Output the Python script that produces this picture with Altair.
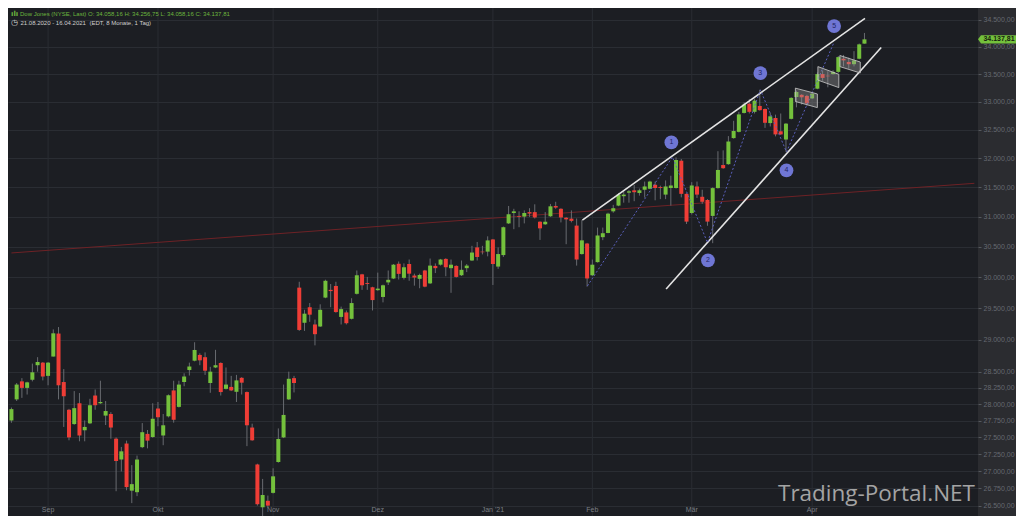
import altair as alt
import pandas as pd

# ---------------- data ----------------
dates = [
    "2020-08-21", "2020-08-24", "2020-08-25", "2020-08-26", "2020-08-27", "2020-08-28", "2020-08-31",
    "2020-09-01", "2020-09-02", "2020-09-03", "2020-09-04", "2020-09-08", "2020-09-09", "2020-09-10",
    "2020-09-11", "2020-09-14", "2020-09-15", "2020-09-16", "2020-09-17", "2020-09-18", "2020-09-21",
    "2020-09-22", "2020-09-23", "2020-09-24", "2020-09-25", "2020-09-28", "2020-09-29", "2020-09-30",
    "2020-10-01", "2020-10-02", "2020-10-05", "2020-10-06", "2020-10-07", "2020-10-08", "2020-10-09",
    "2020-10-12", "2020-10-13", "2020-10-14", "2020-10-15", "2020-10-16", "2020-10-19", "2020-10-20",
    "2020-10-21", "2020-10-22", "2020-10-23", "2020-10-26", "2020-10-27", "2020-10-28", "2020-10-29",
    "2020-10-30", "2020-11-02", "2020-11-03", "2020-11-04", "2020-11-05", "2020-11-06", "2020-11-09",
    "2020-11-10", "2020-11-11", "2020-11-12", "2020-11-13", "2020-11-16", "2020-11-17", "2020-11-18",
    "2020-11-19", "2020-11-20", "2020-11-23", "2020-11-24", "2020-11-25", "2020-11-27", "2020-11-30",
    "2020-12-01", "2020-12-02", "2020-12-03", "2020-12-04", "2020-12-07", "2020-12-08", "2020-12-09",
    "2020-12-10", "2020-12-11", "2020-12-14", "2020-12-15", "2020-12-16", "2020-12-17", "2020-12-18",
    "2020-12-21", "2020-12-22", "2020-12-23", "2020-12-24", "2020-12-28", "2020-12-29", "2020-12-30",
    "2020-12-31", "2021-01-04", "2021-01-05", "2021-01-06", "2021-01-07", "2021-01-08", "2021-01-11",
    "2021-01-12", "2021-01-13", "2021-01-14", "2021-01-15", "2021-01-19", "2021-01-20", "2021-01-21",
    "2021-01-22", "2021-01-25", "2021-01-26", "2021-01-27", "2021-01-28", "2021-01-29", "2021-02-01",
    "2021-02-02", "2021-02-03", "2021-02-04", "2021-02-05", "2021-02-08", "2021-02-09", "2021-02-10",
    "2021-02-11", "2021-02-12", "2021-02-16", "2021-02-17", "2021-02-18", "2021-02-19", "2021-02-22",
    "2021-02-23", "2021-02-24", "2021-02-25", "2021-02-26", "2021-03-01", "2021-03-02", "2021-03-03",
    "2021-03-04", "2021-03-05", "2021-03-08", "2021-03-09", "2021-03-10", "2021-03-11", "2021-03-12",
    "2021-03-15", "2021-03-16", "2021-03-17", "2021-03-18", "2021-03-19", "2021-03-22", "2021-03-23",
    "2021-03-24", "2021-03-25", "2021-03-26", "2021-03-29", "2021-03-30", "2021-03-31", "2021-04-01",
    "2021-04-05", "2021-04-06", "2021-04-07", "2021-04-08", "2021-04-09", "2021-04-12", "2021-04-13",
    "2021-04-14", "2021-04-15", "2021-04-16",
]

opens = [
    27754, 28074, 28350, 28250, 28375, 28600, 28640, 28435, 28735, 29096, 28340, 27916, 27700, 28015,
    27607, 27711, 28133, 28015, 27828, 27852, 27481, 27172, 27409, 26716, 26694, 27355, 27553, 27506,
    27935, 27529, 27817, 28211, 27960, 28340, 28525, 28670, 28760, 28725, 28325, 28565, 28635, 28235,
    28265, 28190, 28405, 28186, 27648, 27099, 26476, 26570, 26684, 27135, 27500, 28074, 28400, 29831,
    29267, 29515, 29240, 29208, 29670, 29795, 29858, 29360, 29432, 29330, 29731, 30047, 29905, 29837,
    29790, 29680, 29916, 29979, 30220, 29990, 30216, 30027, 29974, 30110, 29900, 30185, 30205, 30300,
    30148, 30185, 30032, 30148, 30274, 30490, 30420, 30420, 30622, 30174, 30363, 30890, 31065, 31016,
    31005, 31080, 31080, 30918, 30875, 31010, 31184, 31136, 30985, 30970, 30853, 30380, 30554, 30032,
    30247, 30660, 30730, 31093, 31190, 31350, 31410, 31450, 31405, 31460, 31477, 31545, 31505, 31377,
    31490, 31490, 31960, 31390, 31065, 31516, 31340, 31285, 31016, 31488, 31885, 31900, 32355, 32465,
    32800, 32965, 32820, 32925, 32870, 32620, 32710, 32475, 32330, 32695, 33085, 33125, 33105, 33060,
    33235, 33500, 33470, 33500, 33540, 33780, 33720, 33680, 33780, 34058.16,
]

highs = [
    27950, 28325, 28400, 28345, 28625, 28725, 28650, 28650, 29162, 29199, 28540, 27930, 28201, 28171,
    27755, 28083, 28226, 28360, 28049, 27880, 27500, 27358, 27452, 27089, 27230, 27715, 27611, 28015,
    28034, 27852, 28150, 28360, 28360, 28475, 28640, 28959, 28785, 28800, 28575, 28840, 28645, 28565,
    28435, 28450, 28415, 28195, 27706, 27110, 26887, 26645, 27043, 27635, 28301, 28500, 28435, 29926,
    29474, 29582, 29318, 29562, 29960, 29890, 29926, 29525, 29463, 29660, 30110, 30055, 30005, 29845,
    30075, 29880, 30110, 30216, 30258, 30226, 30290, 30058, 30058, 30120, 30306, 30226, 30300, 30310,
    30290, 30195, 30274, 30216, 30516, 30580, 30516, 30674, 30630, 30490, 30837, 31184, 31136, 31093,
    31109, 31146, 31212, 30925, 31080, 31218, 31255, 31145, 30995, 31109, 30972, 30946, 30565, 30290,
    30820, 30820, 31070, 31203, 31405, 31430, 31455, 31540, 31480, 31600, 31615, 31600, 31530, 31620,
    31700, 32017, 31990, 31400, 31590, 31600, 31460, 31300, 31500, 32125, 32140, 32390, 32660, 32820,
    32990, 33050, 33055, 33215, 32880, 32800, 32770, 32790, 32620, 33080, 33200, 33135, 33125, 33160,
    33530, 33560, 33550, 33570, 33830, 33850, 33800, 33920, 34060, 34256.75,
]

lows = [
    27720, 28049, 28097, 28148, 28350, 28500, 28365, 28290, 28735, 28074, 27657, 27457, 27690, 27442,
    27442, 27700, 27916, 28005, 27686, 27481, 26708, 26996, 26722, 26536, 26637, 27340, 27337, 27495,
    27667, 27384, 27800, 27721, 27950, 28275, 28440, 28660, 28600, 28450, 28175, 28555, 28133, 28225,
    28201, 28034, 28148, 27370, 27450, 26500, 26340, 26470, 26675, 27125, 27490, 28065, 28180, 29138,
    29138, 29282, 28910, 29200, 29660, 29515, 29427, 29240, 29240, 29320, 29720, 29795, 29795, 29463,
    29780, 29593, 29874, 29970, 29963, 29963, 29942, 29863, 29821, 29837, 29890, 30068, 30190, 30016,
    29747, 29995, 30020, 30084, 30265, 30274, 30374, 30342, 29874, 30137, 30332, 30880, 30793, 30826,
    30890, 31000, 30972, 30614, 30865, 31000, 31136, 30907, 30543, 30907, 30190, 30370, 29847, 30020,
    30240, 30610, 30725, 31070, 31180, 31240, 31240, 31265, 31360, 31325, 31470, 31280, 31300, 31300,
    31190, 31480, 31330, 30880, 31040, 31320, 31220, 30850, 30560, 31480, 31820, 31890, 32345, 32455,
    32790, 32790, 32790, 32840, 32535, 32560, 32385, 32410, 32115, 32685, 32900, 32950, 32930, 33050,
    33225, 33380, 33260, 33490, 33520, 33640, 33600, 33640, 33770, 34058.16,
]

closes = [
    27926, 28301, 28250, 28335, 28490, 28650, 28425, 28640, 29100, 28290, 28122, 27500, 27941, 27529,
    27657, 27985, 27985, 28034, 27897, 27648, 27150, 27293, 26768, 26811, 27172, 27578, 27452, 27780,
    27803, 27682, 28137, 27765, 28301, 28425, 28580, 28838, 28676, 28515, 28500, 28600, 28186, 28301,
    28211, 28365, 28330, 27682, 27457, 26520, 26653, 26500, 26925, 27477, 27838, 28390, 28325, 29153,
    29412, 29396, 29086, 29474, 29942, 29775, 29438, 29485, 29260, 29582, 30032, 29869, 29890, 29630,
    29815, 29869, 29958, 30205, 30055, 30163, 30058, 29995, 30037, 29847, 30190, 30148, 30290, 30163,
    30205, 30005, 30121, 30190, 30405, 30332, 30410, 30606, 30216, 30380, 30826, 31044, 31093, 31000,
    31065, 31055, 30990, 30807, 30918, 31178, 31157, 30990, 30958, 30932, 30290, 30607, 29980, 30205,
    30688, 30726, 31054, 31146, 31377, 31377, 31433, 31418, 31450, 31516, 31600, 31490, 31490, 31516,
    31533, 31972, 31390, 30920, 31533, 31377, 31255, 30920, 31488, 31800, 31830, 32295, 32480, 32774,
    32950, 32820, 33020, 32850, 32625, 32740, 32420, 32420, 32610, 33070, 33175, 33080, 32970, 33145,
    33500, 33430, 33460, 33540, 33810, 33750, 33680, 33750, 34045, 34137.81,
]

month_labels = ["Sep", "Okt", "Nov", "Dez", "Jan '21", "Feb", "Mär", "Apr"]
y_ticks = [26500, 26750, 27000, 27250, 27500, 27750, 28000, 28250, 28500, 29000, 29500,
           30000, 30500, 31000, 31500, 32000, 32500, 33000, 33500, 34000, 34500]

# drawn annotations (trading-day index, price)
wedge_line = ["upper", "upper", "lower", "lower"]
wedge_idx = [109.1, 163.1, 125.1, 166.2]
wedge_price = [30946, 34529, 29810, 33987]

trend_idx = [0, 184]
trend_price = [30398, 31570]

wave_idx = [110.06, 126.3, 133.0, 143.1, 148.1, 157.2]
wave_price = [29858, 32025, 30569, 33215, 32113, 34087]

marker_labels = ["1", "2", "3", "4", "5"]
marker_idx = [126.1, 133.1, 143.1, 148.1, 157.2]
marker_price = [32278, 30275, 33518, 31793, 34384]

flag_id = ["f1", "f1", "f2", "f2", "f3", "f3"]
flag_idx = [149.8, 154.0, 154.1, 158.1, 158.3, 162.2]
flag_top = [33245, 33140, 33636, 33495, 33839, 33720]
flag_bottom = [33005, 32895, 33390, 33255, 33636, 33520]

instrument = "Dow Jones (NYSE, Last)"
period_text = "21.08.2020 - 16.04.2021"
period_note = "(EDT, 8 Monate, 1 Tag)"
watermark = "Trading-Portal.NET"

# ---------------- helpers ----------------
def de(v):
    return f"{v:,.2f}".replace(",", "#").replace(".", ",").replace("#", ".")

W, H = 970, 508
PANEL = 38
GREEN = "#74c13c"
RED = "#ef3d36"
FONT = "Liberation Sans"

candles = pd.DataFrame({
    "i": list(range(len(dates))),
    "date": dates,
    "open": opens, "high": highs, "low": lows, "close": closes,
})
candles["dir"] = ["up" if c >= o else "down" for o, c in zip(opens, closes)]

months = [d[:7] for d in dates]
month_first = [k for k in range(1, len(months)) if months[k] != months[k - 1]]
month_df = pd.DataFrame({"i": month_first, "label": month_labels})

x_scale = alt.Scale(domain=[0.3, 183.74], nice=False, zero=False)
y_scale = alt.Scale(type="log", domain=[26351, 34724], nice=False, zero=False)
y_axis = alt.Axis(
    orient="right", values=y_ticks, title=None,
    labelExpr="replace(replace(replace(format(datum.value, ',.2f'), ',', '#'), '.', ','), '#', '.')",
    tickSize=3, tickColor="#55585e", labelColor="#666970", labelFontSize=7, labelFont=FONT,
    labelPadding=2, domain=False, grid=True, gridColor="#2a2d33", gridWidth=1,
    labelOverlap=False, labelFlush=False, labelBound=False,
)

def X(field="i"):
    return alt.X(f"{field}:Q", scale=x_scale, axis=None)

def Y(field):
    return alt.Y(f"{field}:Q", scale=y_scale, axis=y_axis)

base = alt.Chart(candles)

grid_v = alt.Chart(month_df).mark_rule(color="#2a2d33", strokeWidth=1).encode(x=X())

trend = alt.Chart(pd.DataFrame({"i": trend_idx, "p": trend_price})).mark_line(
    color="#6e2226", strokeWidth=1, clip=True).encode(x=X(), y=Y("p"))

wicks = base.mark_rule(color="#686b70", strokeWidth=1, clip=True).encode(
    x=X(), y=Y("low"), y2="high:Q")

bodies = base.mark_bar(size=4, clip=True).encode(
    x=X(), y=Y("open"), y2="close:Q",
    color=alt.Color("dir:N", scale=alt.Scale(domain=["up", "down"], range=[GREEN, RED]), legend=None),
)

wedge = alt.Chart(pd.DataFrame({"line": wedge_line, "i": wedge_idx, "p": wedge_price})).mark_line(
    color="#e4e4e4", strokeWidth=1.6, clip=True).encode(x=X(), y=Y("p"), detail="line:N")

wave = alt.Chart(pd.DataFrame({"i": wave_idx, "p": wave_price})).mark_line(
    color="#5a60bd", strokeWidth=1, strokeDash=[2, 2]).encode(x=X(), y=Y("p"), order="i:Q")

flags = alt.Chart(pd.DataFrame({"flag": flag_id, "i": flag_idx, "top": flag_top, "bottom": flag_bottom})).mark_area(
    fill="#9a9a9a", fillOpacity=0.38, stroke="#c4c4c4", strokeWidth=1, strokeOpacity=0.85).encode(
    x=X(), y=Y("top"), y2="bottom:Q", detail="flag:N")

mk_df = pd.DataFrame({"i": marker_idx, "p": marker_price, "t": marker_labels})
markers = alt.Chart(mk_df).mark_point(shape="circle", filled=True, size=190, color="#6f76d4", opacity=1).encode(
    x=X(), y=Y("p"))
marker_text = alt.Chart(mk_df).mark_text(font=FONT, fontSize=7, color="#1e2462", baseline="middle").encode(
    x=X(), y=Y("p"), text="t:N")

month_text = alt.Chart(month_df).mark_text(font=FONT, fontSize=7, color="#7b7e84", baseline="middle").encode(
    x=X(), y=alt.value(H - 6), text="label:N")

last = candles.iloc[-1]
head1 = f"{instrument}  O: {de(last['open'])}  H: {de(last['high'])}  L: {de(last['low'])}  C: {de(last['close'])}"
header1 = alt.Chart(pd.DataFrame({"t": [head1]})).mark_text(
    font=FONT, fontSize=6, color="#6cb63e", align="left", baseline="middle").encode(
    x=alt.value(12), y=alt.value(6), text="t:N")
icon1 = alt.Chart(pd.DataFrame({"t": ["ılı"]})).mark_text(
    font="DejaVu Sans", fontSize=7, color="#6cb63e", align="left", baseline="middle", fontWeight="bold").encode(
    x=alt.value(3), y=alt.value(6), text="t:N")
header2a = alt.Chart(pd.DataFrame({"t": [period_text]})).mark_text(
    font=FONT, fontSize=6, color="#cfcfcf", align="left", baseline="middle").encode(
    x=alt.value(12.5), y=alt.value(15), text="t:N")
header2b = alt.Chart(pd.DataFrame({"t": [period_note]})).mark_text(
    font=FONT, fontSize=6, color="#cfcfcf", align="left", baseline="middle").encode(
    x=alt.value(81.5), y=alt.value(15), text="t:N")
icon2 = alt.Chart(pd.DataFrame({"t": ["◷"]})).mark_text(
    font="DejaVu Sans", fontSize=8, color="#d8d8d8", align="left", baseline="middle").encode(
    x=alt.value(3), y=alt.value(15), text="t:N")

wm = alt.Chart(pd.DataFrame({"t": [watermark]})).mark_text(
    font="Open Sans", fontSize=22.5, color="#a4a4a4", align="right", baseline="alphabetic").encode(
    x=alt.value(967), y=alt.value(493), text="t:N")

price_df = pd.DataFrame({"p": [last["close"]], "t": [de(last["close"])]})
price_tag = alt.Chart(price_df).mark_point(
    shape="M -1 0 L -0.84 -0.22 L 1 -0.22 L 1 0.22 L -0.84 0.22 Z",
    filled=True, size=PANEL * PANEL, color=GREEN, opacity=1, strokeWidth=0).encode(
    x=alt.value(W + PANEL / 2), y=Y("p"))
price_text = alt.Chart(price_df).mark_text(
    font=FONT, fontSize=7, fontWeight="bold", color="#16230c", baseline="middle").encode(
    x=alt.value(W + PANEL / 2 + 2), y=Y("p"), text="t:N")

chart = alt.layer(
    grid_v, trend, wicks, bodies, wedge, wave, flags, markers, marker_text,
    month_text, icon1, header1, icon2, header2a, header2b, wm, price_tag, price_text,
).properties(
    width=W, height=H,
    padding={"left": 0, "top": 0, "right": PANEL, "bottom": 0},
    autosize=alt.AutoSizeParams(type="none"),
    background="#2b2c30",
).configure_view(fill="#1c1e23", strokeWidth=0)

chart.save("out.html", embed_options={"renderer": "svg", "actions": False})
